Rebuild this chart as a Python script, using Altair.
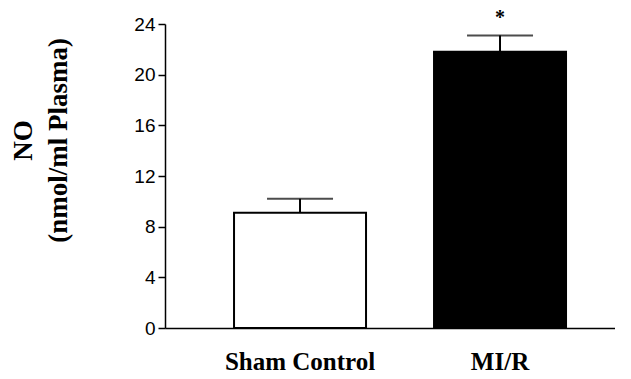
import altair as alt
import pandas as pd

groups = ["Sham Control", "MI/R"]
means = [9.1, 21.8]
upper = [10.2, 23.1]
marks = ["", "*"]
mark_y = [0.0, 25.1]
fills = ["white", "black"]

df = pd.DataFrame({"group": groups, "mean": means, "upper": upper,
                   "sig": marks, "sig_y": mark_y, "fill": fills})

xs = alt.X("group:N", sort=groups,
           scale=alt.Scale(paddingInner=0.34, paddingOuter=0.295, align=0.585),
           axis=alt.Axis(title=None, labelAngle=0, ticks=False, domainColor="black",
                         domainWidth=1.5, labelFont="Liberation Serif", labelFontWeight="bold",
                         labelFontSize=25, labelColor="black", labelPadding=21))
ys = alt.Y("mean:Q", scale=alt.Scale(domain=[0, 24], nice=False),
           axis=alt.Axis(values=[0, 4, 8, 12, 16, 20, 24], grid=False,
                         title=["NO", "(nmol/ml Plasma)"], titleFont="Liberation Serif",
                         titleFontWeight="bold", titleFontSize=27, titleColor="black",
                         titleAngle=270, titleX=-142, titleY=116, titleAlign="center",
                         titleBaseline="middle", titleLineHeight=35,
                         labelFont="Liberation Sans", labelFontSize=19, labelColor="black",
                         tickSize=7, tickColor="black", tickWidth=1.5, labelPadding=3,
                         domainColor="black", domainWidth=1.5))

base = alt.Chart(df)

bars = base.mark_bar(stroke="black", strokeWidth=2).encode(
    x=xs, y=ys,
    fill=alt.Fill("fill:N", scale=None),
)

stem = base.mark_rule(color="black", strokeWidth=2).encode(
    x=alt.X("group:N", sort=groups), y="mean:Q", y2="upper:Q")

cap = base.mark_tick(color="black", thickness=2, size=66).encode(
    x=alt.X("group:N", sort=groups), y="upper:Q")

star = base.mark_text(font="Liberation Serif", fontWeight="bold", fontSize=20,
                      baseline="middle", dy=8, color="black").encode(
    x=alt.X("group:N", sort=groups), y="sig_y:Q", text="sig:N")

chart = alt.layer(bars, stem, cap, star).properties(
    width=450, height=304,
    autosize=alt.AutoSizeParams(type="none"),
    padding={"left": 157, "top": 16, "right": 0, "bottom": 50},
).configure_view(strokeWidth=0)

chart.save("out.html", embed_options={"renderer": "svg", "actions": False})
